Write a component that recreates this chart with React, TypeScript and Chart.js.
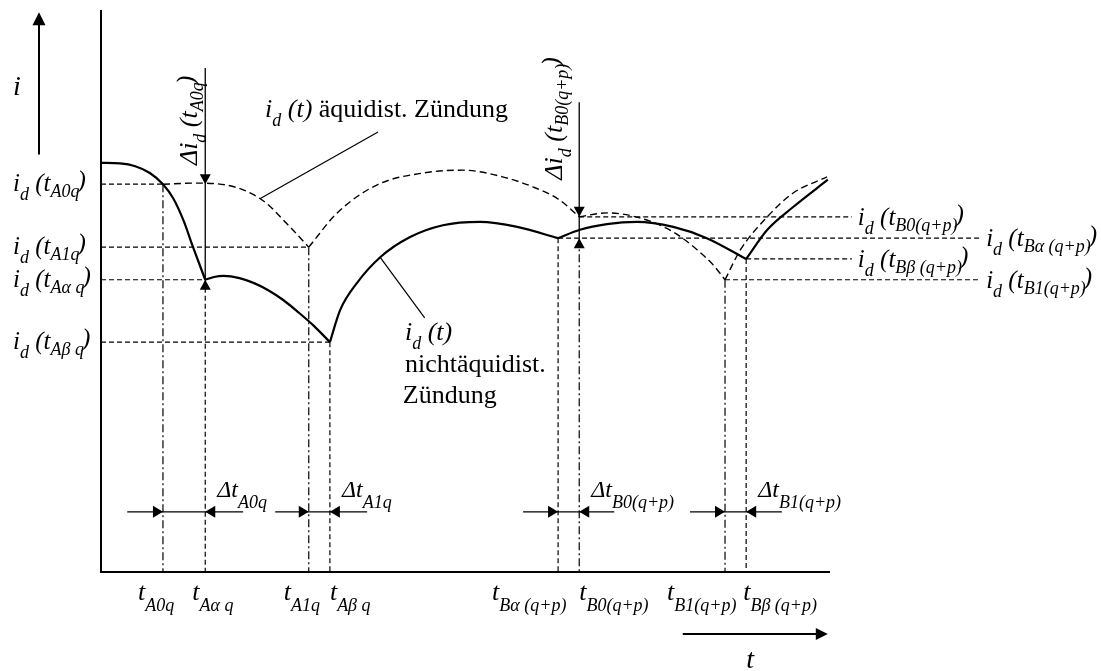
import { useEffect, useRef } from 'react';
import { Chart, registerables } from 'chart.js';

Chart.register(...registerables);

// Firing instants on the time axis (t, normalised units 0..100 along the drawn axis)
const tickSubs = ['A0q', 'Aα q', 'A1q', 'Aβ q', 'Bα (q+p)', 'B0(q+p)', 'B1(q+p)', 'Bβ (q+p)'];
const tickTimes = [8.5, 14.3, 28.5, 31.4, 62.7, 65.6, 85.6, 88.5];
const tickLabelShift = [-25, -13, -25, 0, -66, 0, -58, -3];

// Current levels i_d(t_x) (normalised units 0..100 along the drawn axis)
const leftLevelSubs = ['A0q', 'A1q', 'Aα q', 'Aβ q'];
const leftLevelValues = [69.0, 57.8, 52.0, 40.9];
const leftLevelTimes = [8.5, 28.5, 14.3, 31.4];

const rightLevelSubs = ['B0(q+p)', 'Bα (q+p)', 'Bβ (q+p)', 'B1(q+p)'];
const rightLevelValues = [63.2, 59.4, 55.7, 52.0];
const rightLevelTimes = [65.6, 62.7, 88.5, 85.6];
const rightLevelEnds = [103.0, 120.6, 103.0, 120.6];

// i_d(t) with non-equidistant firing: one arc per commutation interval
const solidArcs: number[][][] = [
  [[0, 72.8], [2.6, 72.7], [4.7, 72.2], [6.7, 71.0], [8.5, 69.0], [9.9, 66.5], [11.3, 62.6], [12.6, 57.9], [14.3, 52.0]],
  [[14.3, 52.0], [15.5, 52.5], [16.8, 52.7], [19.0, 52.3], [21.0, 51.4], [23.0, 50.1], [25.0, 48.4], [27.0, 46.3], [29.2, 43.8], [31.4, 40.9]],
  [[31.4, 40.9], [32.8, 46.6], [35.1, 51.4], [38.3, 56.0], [42.4, 59.6], [46.9, 61.7], [52.0, 62.3], [57.1, 61.4], [62.7, 59.4]],
  [[62.7, 59.4], [65.7, 60.9], [69.4, 61.9], [73.5, 62.3], [78.5, 61.4], [83.1, 59.4], [88.5, 55.7]],
  [[88.5, 55.7], [91.4, 60.9], [94.9, 64.9], [99.7, 69.8]],
];

// i_d(t) with equidistant firing
const dashedArcs: number[][][] = [
  [[8.5, 69.0], [12.9, 69.2], [17.0, 68.9], [22.1, 66.2], [25.7, 61.7], [28.5, 57.8]],
  [[28.5, 57.8], [32.4, 63.9], [37.9, 68.9], [44.2, 71.0], [49.7, 71.5], [55.1, 70.3], [59.3, 68.5], [62.9, 66.2], [65.6, 63.2]],
  [[65.6, 63.2], [69.4, 63.9], [73.9, 63.0], [78.5, 60.5], [81.8, 57.3], [84.0, 54.6], [85.6, 52.0]],
  [[85.6, 52.0], [87.7, 57.3], [91.4, 63.2], [94.9, 67.4], [99.6, 70.3]],
];

// Δt markers: [left tail, left tip, right tip, right tail]
const dtSubs = ['A0q', 'A1q', 'B0(q+p)', 'B1(q+p)'];
const dtMarks = [
  [3.6, 8.5, 14.3, 19.5],
  [23.9, 28.5, 31.4, 36.5],
  [57.9, 62.7, 65.6, 70.4],
  [80.8, 85.6, 88.5, 93.4],
];
const dtLevel = 10.7;

// Δi markers: [t, top of stem, upper tip, lower tip]
const diSubs = ['A0q', 'B0(q+p)'];
const diMarks = [
  [14.3, 89.7, 69.0, 52.0],
  [65.6, 83.6, 63.2, 59.4],
];

const FONT = '"Liberation Serif", "Times New Roman", serif';
type Run = { t: string; s: number; it?: boolean; dy?: number; dx?: number };

function drawRuns(ctx: CanvasRenderingContext2D, x: number, y: number, runs: Run[]) {
  let cx = x;
  for (const r of runs) {
    ctx.font = `${r.it ? 'italic ' : ''}${r.s}px ${FONT}`;
    cx += r.dx || 0;
    ctx.fillText(r.t, cx, y + (r.dy || 0));
    cx += ctx.measureText(r.t).width;
  }
}

const idRuns = (sub: string): Run[] => [
  { t: 'i', s: 25, it: true },
  { t: 'd', s: 18, it: true, dy: 9 },
  { t: ' (', s: 25, it: true },
  { t: 't', s: 25, it: true },
  { t: sub, s: 18, it: true, dy: 6 },
  { t: ')', s: 25, it: true, dy: -3, dx: -2 },
];

function arrowHead(ctx: CanvasRenderingContext2D, x: number, y: number, dir: 'l' | 'r' | 'u' | 'd', len = 10, half = 5.5) {
  ctx.beginPath();
  ctx.moveTo(x, y);
  if (dir === 'r') { ctx.lineTo(x - len, y - half); ctx.lineTo(x - len, y + half); }
  if (dir === 'l') { ctx.lineTo(x + len, y - half); ctx.lineTo(x + len, y + half); }
  if (dir === 'd') { ctx.lineTo(x - half, y - len); ctx.lineTo(x + half, y - len); }
  if (dir === 'u') { ctx.lineTo(x - half, y + len); ctx.lineTo(x + half, y + len); }
  ctx.closePath();
  ctx.fill();
}

const DASH_DOT = [8, 3, 2, 3];
const DASH_SHORT = [5, 3];
const DASH_CURVE = [7, 4];

const seg = (pts: number[][], width: number, dash: number[] = [], smooth = false) => ({
  data: pts.map(([x, y]) => ({ x, y })),
  showLine: true,
  pointRadius: 0,
  borderColor: '#000',
  backgroundColor: '#000',
  borderWidth: width,
  borderDash: dash,
  cubicInterpolationMode: smooth ? 'monotone' : 'default',
  tension: smooth ? 0.4 : 0,
  fill: false,
});

const decorations = {
  id: 'decorations',
  afterDatasetsDraw(chart: any) {
    const ctx: CanvasRenderingContext2D = chart.ctx;
    const xs = chart.scales.x;
    const ys = chart.scales.y;
    const X = (v: number) => xs.getPixelForValue(v);
    const Y = (v: number) => ys.getPixelForValue(v);
    ctx.save();
    ctx.fillStyle = '#000';
    ctx.strokeStyle = '#000';
    ctx.textBaseline = 'alphabetic';

    // axes
    ctx.lineWidth = 2;
    ctx.setLineDash([]);
    ctx.beginPath();
    ctx.moveTo(X(0), Y(100));
    ctx.lineTo(X(0), Y(0));
    ctx.lineTo(X(100), Y(0));
    ctx.stroke();

    // direction arrows
    const ax = X(0) - 62;
    ctx.beginPath();
    ctx.moveTo(ax, Y(74.3));
    ctx.lineTo(ax, Y(99.0));
    ctx.stroke();
    arrowHead(ctx, ax, Y(99.6), 'u', 13, 6.5);
    drawRuns(ctx, X(0) - 88, Y(84.3) - 3, [{ t: 'i', s: 28, it: true }]);

    const ay = Y(0) + 62;
    ctx.beginPath();
    ctx.moveTo(X(79.8), ay);
    ctx.lineTo(X(98.5), ay);
    ctx.stroke();
    arrowHead(ctx, X(99.7), ay, 'r', 12, 6);
    drawRuns(ctx, X(88.5), Y(0) + 96, [{ t: 't', s: 28, it: true }]);

    // Δi arrows
    ctx.lineWidth = 1.3;
    diMarks.forEach(([t, top, upTip, lowTip], k) => {
      ctx.beginPath();
      ctx.moveTo(X(t), Y(top));
      ctx.lineTo(X(t), Y(lowTip));
      ctx.stroke();
      arrowHead(ctx, X(t), Y(upTip), 'd');
      arrowHead(ctx, X(t), Y(lowTip), 'u');
      ctx.save();
      const bx = X(t) - (k === 0 ? 8 : 17);
      const by = k === 0 ? Y(72.4) : Y(69.8);
      ctx.translate(bx, by);
      ctx.rotate(-Math.PI / 2);
      drawRuns(ctx, 0, 0, [
        { t: 'Δ', s: 26, it: true },
        { t: 'i', s: 26, it: true },
        { t: 'd', s: 18, it: true, dy: 9 },
        { t: ' (', s: 26, it: true },
        { t: 't', s: 26, it: true },
        { t: diSubs[k], s: 18, it: true, dy: 6 },
        { t: ')', s: 26, it: true, dy: -3, dx: -2 },
      ]);
      ctx.restore();
    });

    // Δt arrows
    dtMarks.forEach(([a, b, c, d], k) => {
      const y = Y(dtLevel);
      ctx.beginPath();
      ctx.moveTo(X(a), y);
      ctx.lineTo(X(d), y);
      ctx.stroke();
      arrowHead(ctx, X(b), y, 'r', 10, 6);
      arrowHead(ctx, X(c), y, 'l', 10, 6);
      drawRuns(ctx, X(c) + 12, Y(13.3), [
        { t: 'Δ', s: 24, it: true },
        { t: 't', s: 24, it: true },
        { t: dtSubs[k], s: 18, it: true, dy: 11 },
      ]);
    });

    // leader lines for the two curve annotations
    ctx.lineWidth = 1.2;
    ctx.beginPath();
    ctx.moveTo(X(21.8), Y(66.4));
    ctx.lineTo(X(38.0), Y(78.3));
    ctx.moveTo(X(38.3), Y(56.0));
    ctx.lineTo(X(44.4), Y(45.2));
    ctx.stroke();

    drawRuns(ctx, X(22.5), Y(80.9), [
      { t: 'i', s: 26, it: true },
      { t: 'd', s: 18, it: true, dy: 9 },
      { t: ' (t)', s: 26, it: true },
      { t: ' äquidist. Zündung', s: 26 },
    ]);
    drawRuns(ctx, X(41.7), Y(41.3), [
      { t: 'i', s: 26, it: true },
      { t: 'd', s: 18, it: true, dy: 9 },
      { t: ' (t)', s: 26, it: true },
    ]);
    drawRuns(ctx, X(41.7), Y(35.6), [{ t: 'nichtäquidist.', s: 26 }]);
    drawRuns(ctx, X(41.4), Y(30.0), [{ t: 'Zündung', s: 26 }]);

    // level labels
    leftLevelSubs.forEach((sub, k) => {
      drawRuns(ctx, X(0) - 88, Y(leftLevelValues[k]) + 7, idRuns(sub));
    });
    rightLevelSubs.forEach((sub, k) => {
      drawRuns(ctx, X(rightLevelEnds[k]) + 6, Y(rightLevelValues[k]) + 8, idRuns(sub));
    });

    // time labels
    tickSubs.forEach((sub, k) => {
      drawRuns(ctx, X(tickTimes[k]) + tickLabelShift[k], Y(0) + 28, [
        { t: 't', s: 26, it: true },
        { t: sub, s: 18, it: true, dy: 11 },
      ]);
    });

    ctx.restore();
  },
};

export default function App() {
  const ref = useRef<HTMLCanvasElement>(null);

  useEffect(() => {
    if (!ref.current) return;
    const datasets: any[] = [];

    // horizontal level lines
    leftLevelValues.forEach((v, k) => {
      datasets.push(seg([[0, v], [leftLevelTimes[k], v]], 1.2, DASH_SHORT));
    });
    rightLevelValues.forEach((v, k) => {
      datasets.push(seg([[rightLevelTimes[k], v], [rightLevelEnds[k], v]], 1.2, DASH_SHORT));
    });

    // vertical lines from the curve down to the time axis
    const verticalTop = [69.0, 52.0, 57.8, 40.9, 59.4, 59.4, 52.0, 55.7];
    tickTimes.forEach((t, k) => {
      const dashDot = k === 0 || k === 2 || k === 5 || k === 6;
      datasets.push(seg([[t, verticalTop[k]], [t, 0]], 1.2, dashDot ? DASH_DOT : DASH_SHORT));
    });

    dashedArcs.forEach((a) => datasets.push(seg(a, 1.4, DASH_CURVE, true)));
    solidArcs.forEach((a) => datasets.push(seg(a, 2.2, [], true)));

    const chart = new Chart(ref.current, {
      type: 'scatter',
      data: { datasets },
      options: {
        animation: false,
        responsive: false,
        maintainAspectRatio: false,
        events: [],
        layout: { padding: { left: 101, right: 52.3, top: 10, bottom: 99 } },
        plugins: { legend: { display: false }, tooltip: { enabled: false } },
        scales: {
          x: { type: 'linear', min: 0, max: 130, display: false },
          y: { type: 'linear', min: 0, max: 100, display: false },
        },
      },
      plugins: [decorations],
    });
    return () => chart.destroy();
  }, []);

  return (
    <div style={{ position: 'fixed', left: 0, top: 0, width: 1101, height: 671, background: '#fff' }}>
      <canvas ref={ref} width={1101} height={671} />
    </div>
  );
}
